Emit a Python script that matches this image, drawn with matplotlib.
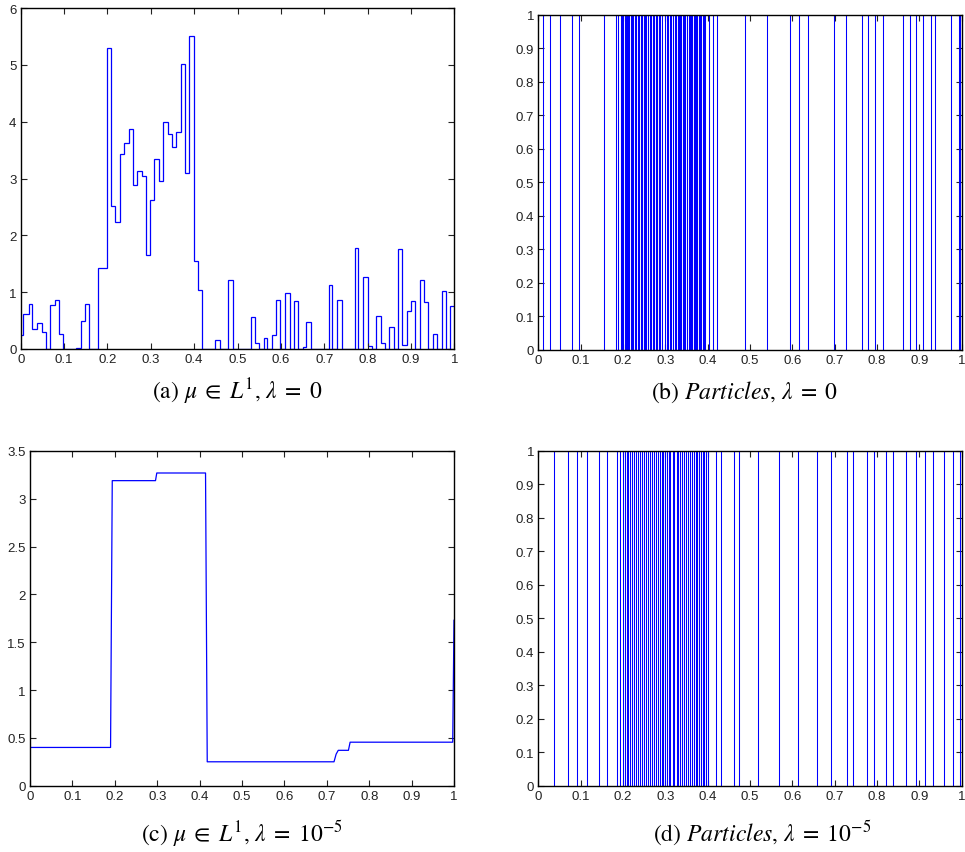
import matplotlib
matplotlib.use("Agg")
import matplotlib.pyplot as plt
from matplotlib.ticker import FuncFormatter

plt.rcParams['font.family'] = ['Liberation Sans', 'DejaVu Sans']
plt.rcParams['mathtext.fontset'] = 'stix'

# ---- panel (a): density, lambda = 0 (piecewise constant) ----
a_edges = [0.000, 0.006, 0.018, 0.027, 0.037, 0.048, 0.058, 0.068, 0.078, 0.088,
           0.098, 0.128, 0.138, 0.148, 0.158, 0.178, 0.198, 0.208, 0.218, 0.228,
           0.238, 0.249, 0.258, 0.268, 0.279, 0.288, 0.299, 0.308, 0.319, 0.329,
           0.339, 0.349, 0.359, 0.369, 0.379, 0.389, 0.399, 0.409, 0.419, 0.449,
           0.459, 0.479, 0.489, 0.530, 0.540, 0.550, 0.560, 0.569, 0.580, 0.589,
           0.599, 0.610, 0.620, 0.630, 0.640, 0.650, 0.659, 0.669, 0.710, 0.719,
           0.730, 0.740, 0.770, 0.779, 0.790, 0.800, 0.810, 0.820, 0.830, 0.840,
           0.850, 0.860, 0.870, 0.880, 0.890, 0.901, 0.910, 0.920, 0.931, 0.940,
           0.951, 0.960, 0.971, 0.980, 0.991, 1.000]
a_values = [0.25, 0.62, 0.79, 0.36, 0.46, 0.30, 0.00, 0.77, 0.86, 0.27,
            0.00, 0.02, 0.50, 0.79, 0.00, 1.42, 5.29, 2.52, 2.23, 3.43,
            3.62, 3.87, 2.89, 3.14, 3.04, 1.66, 2.62, 3.35, 2.95, 4.00,
            3.79, 3.55, 3.81, 5.01, 3.09, 5.51, 1.54, 1.04, 0.00, 0.16,
            0.00, 1.22, 0.00, 0.56, 0.10, 0.00, 0.19, 0.00, 0.25, 0.86,
            0.00, 0.98, 0.00, 0.84, 0.00, 0.03, 0.47, 0.00, 1.13, 0.00,
            0.86, 0.00, 1.78, 0.00, 1.26, 0.06, 0.00, 0.58, 0.10, 0.00,
            0.39, 0.00, 1.76, 0.07, 0.66, 0.84, 0.00, 1.22, 0.82, 0.00,
            0.26, 0.00, 1.02, 0.00, 0.75]

# ---- panel (b): particle positions, lambda = 0 ----
b_particles = [0.012, 0.028, 0.051, 0.079, 0.097, 0.155, 0.183, 0.189, 0.195,
               0.198, 0.201, 0.204, 0.206, 0.209, 0.212, 0.214, 0.218, 0.221, 0.224,
               0.228, 0.231, 0.235, 0.238, 0.242, 0.245, 0.249, 0.252, 0.255, 0.259,
               0.263, 0.266, 0.270, 0.274, 0.277, 0.281, 0.284, 0.288, 0.293, 0.299,
               0.303, 0.306, 0.310, 0.313, 0.317, 0.322, 0.326, 0.329, 0.332, 0.335,
               0.338, 0.341, 0.344, 0.347, 0.351, 0.355, 0.358, 0.361, 0.364, 0.367,
               0.370, 0.373, 0.376, 0.379, 0.382, 0.385, 0.388, 0.391, 0.394,
               0.402, 0.412, 0.421,
               0.488, 0.539, 0.595, 0.616, 0.637, 0.698, 0.727, 0.764, 0.779, 0.795,
               0.814, 0.862, 0.878, 0.893, 0.908, 0.928, 0.938, 0.975, 0.993, 0.997]

# ---- panel (c): density, lambda = 1e-5 ----
c_x = [0.000, 0.190, 0.194, 0.296, 0.299, 0.414, 0.418, 0.717, 0.722, 0.727,
       0.751, 0.755, 0.997, 1.000]
c_y = [0.40, 0.40, 3.19, 3.19, 3.27, 3.27, 0.25, 0.25, 0.33, 0.37,
       0.37, 0.455, 0.455, 1.73]

# ---- panel (d): particle positions, lambda = 1e-5 ----
d_particles = [0.038, 0.069, 0.092, 0.116, 0.144, 0.162, 0.186, 0.194, 0.201,
               0.204, 0.209, 0.213, 0.217, 0.221, 0.226, 0.230, 0.235, 0.240, 0.244,
               0.250, 0.254, 0.259, 0.264, 0.269, 0.273, 0.278, 0.282, 0.287, 0.291,
               0.295, 0.299, 0.304, 0.308, 0.312, 0.317, 0.321, 0.327, 0.331, 0.335,
               0.339, 0.344, 0.348, 0.353, 0.358, 0.363, 0.368, 0.372, 0.376, 0.380,
               0.384, 0.388, 0.392, 0.396, 0.400,
               0.419, 0.432, 0.462, 0.475, 0.520, 0.568, 0.614, 0.658, 0.692, 0.730,
               0.743, 0.776, 0.792, 0.822, 0.838, 0.868, 0.891, 0.914, 0.932, 0.959,
               0.979, 0.996]

x_ticks = [0, 0.1, 0.2, 0.3, 0.4, 0.5, 0.6, 0.7, 0.8, 0.9, 1]
a_yticks = [0, 1, 2, 3, 4, 5, 6]
b_yticks = [0, 0.1, 0.2, 0.3, 0.4, 0.5, 0.6, 0.7, 0.8, 0.9, 1]
c_yticks = [0, 0.5, 1, 1.5, 2, 2.5, 3, 3.5]

captions = [r"(a) $\mu \;\in\; L^1$, $\lambda \;=\; 0$",
            r"(b) $\mathit{Particles}$, $\lambda \;=\; 0$",
            r"(c) $\mu \;\in\; L^1$, $\lambda \;=\; 10^{-5}$",
            r"(d) $\mathit{Particles}$, $\lambda \;=\; 10^{-5}$"]

W, H = 965, 853
fig = plt.figure(figsize=(W / 100, H / 100), dpi=100)


def box(l, t, r, b):
    return [l / W, (H - b) / H, (r - l) / W, (b - t) / H]


fmt = FuncFormatter(lambda v, p: ("%g" % round(v, 4)))


def style(ax, yticks, ylim):
    ax.set_xlim(0, 1)
    ax.set_ylim(*ylim)
    ax.set_xticks(x_ticks)
    ax.set_yticks(yticks)
    ax.xaxis.set_major_formatter(fmt)
    ax.yaxis.set_major_formatter(fmt)
    ax.tick_params(direction='in', length=4, width=0.8, top=True, right=True,
                   labelsize=9.5, pad=3, colors='#222222')
    for s in ax.spines.values():
        s.set_linewidth(1.0)
        s.set_color('black')


BLUE = (0, 0, 1)
LW = 0.9

axa = fig.add_axes(box(20.7, 9, 454.3, 350))
axa.stairs(a_values, a_edges, color=BLUE, linewidth=LW, baseline=None)
style(axa, a_yticks, (0, 6))

axb = fig.add_axes(box(538.3, 15.7, 961.7, 350.7))
axb.vlines(b_particles, 0, 1, color=BLUE, linewidth=LW * 0.85)
style(axb, b_yticks, (0, 1))

axc = fig.add_axes(box(30, 452, 454, 786.7))
axc.plot(c_x, c_y, color=BLUE, linewidth=LW)
style(axc, c_yticks, (0, 3.5))

axd = fig.add_axes(box(538.3, 452, 961.7, 786.7))
axd.vlines(d_particles, 0, 1, color=BLUE, linewidth=LW * 0.85)
style(axd, b_yticks, (0, 1))

cap_pos = [(237, 399), (745, 399), (242, 841), (762, 841)]
for (cx, cy), txt in zip(cap_pos, captions):
    fig.text(cx / W, (H - cy) / H, txt, ha='center', va='baseline',
             fontsize=17, family=['STIXGeneral', 'DejaVu Serif'])

fig.savefig("out.png", dpi=100)
